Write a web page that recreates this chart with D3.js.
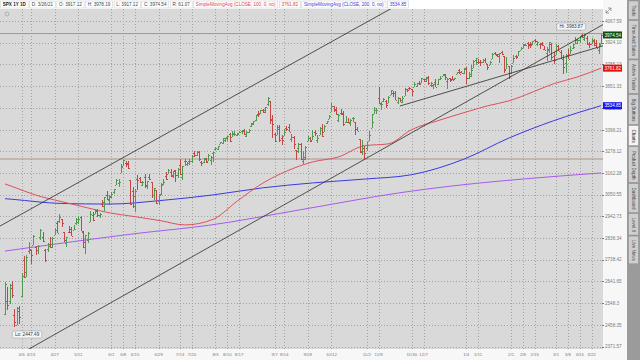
<!DOCTYPE html>
<html>
<head>
<meta charset="utf-8">
<script src="https://cdn.jsdelivr.net/npm/d3@7"></script>
<style>
body { margin: 0; background: #fff; }
svg { display: block; font-family: "Liberation Sans", Arial, sans-serif; }
</style>
</head>
<body>
<svg id="chart" width="640" height="360"></svg>
<script>
// SPX daily bars, 3/26/20 .. 3/26/21 (one entry per trading day)
const days = [
  '3/26','3/27','3/30','3/31',
  '4/1','4/2','4/3','4/6','4/7','4/8','4/9','4/13','4/14','4/15','4/16','4/17','4/20','4/21','4/22','4/23','4/24','4/27','4/28','4/29','4/30',
  '5/1','5/4','5/5','5/6','5/7','5/8','5/11','5/12','5/13','5/14','5/15','5/18','5/19','5/20','5/21','5/22','5/26','5/27','5/28','5/29',
  '6/1','6/2','6/3','6/4','6/5','6/8','6/9','6/10','6/11','6/12','6/15','6/16','6/17','6/18','6/19','6/22','6/23','6/24','6/25','6/26','6/29','6/30',
  '7/1','7/2','7/6','7/7','7/8','7/9','7/10','7/13','7/14','7/15','7/16','7/17','7/20','7/21','7/22','7/23','7/24','7/27','7/28','7/29','7/30','7/31',
  '8/3','8/4','8/5','8/6','8/7','8/10','8/11','8/12','8/13','8/14','8/17','8/18','8/19','8/20','8/21','8/24','8/25','8/26','8/27','8/28','8/31',
  '9/1','9/2','9/3','9/4','9/8','9/9','9/10','9/11','9/14','9/15','9/16','9/17','9/18','9/21','9/22','9/23','9/24','9/25','9/28','9/29','9/30',
  '10/1','10/2','10/5','10/6','10/7','10/8','10/9','10/12','10/13','10/14','10/15','10/16','10/19','10/20','10/21','10/22','10/23','10/26','10/27','10/28','10/29','10/30',
  '11/2','11/3','11/4','11/5','11/6','11/9','11/10','11/11','11/12','11/13','11/16','11/17','11/18','11/19','11/20','11/23','11/24','11/25','11/27','11/30',
  '12/1','12/2','12/3','12/4','12/7','12/8','12/9','12/10','12/11','12/14','12/15','12/16','12/17','12/18','12/21','12/22','12/23','12/24','12/28','12/29','12/30','12/31',
  '1/4','1/5','1/6','1/7','1/8','1/11','1/12','1/13','1/14','1/15','1/19','1/20','1/21','1/22','1/25','1/26','1/27','1/28','1/29',
  '2/1','2/2','2/3','2/4','2/5','2/8','2/9','2/10','2/11','2/12','2/16','2/17','2/18','2/19','2/22','2/23','2/24','2/25','2/26',
  '3/1','3/2','3/3','3/4','3/5','3/8','3/9','3/10','3/11','3/12','3/15','3/16','3/17','3/18','3/19','3/22','3/23','3/24','3/25','3/26b'
]

const opens = [
  2501.29,2555.87,2558.98,2614.69,
  2498.08,2458.54,2514.92,2578.28,2738.65,2685.00,2776.99,2782.46,2805.10,2795.64,2799.34,2842.43,2845.62,2784.81,2787.89,2810.42,2812.64,2854.65,2909.96,2918.46,2930.91,
  2869.09,2815.01,2868.88,2883.14,2878.26,2908.83,2915.46,2939.50,2865.86,2794.54,2829.95,2913.86,2948.59,2953.63,2969.95,2948.05,3004.08,3015.65,3046.61,3025.17,
  3038.78,3064.78,3098.90,3111.56,3163.84,3199.92,3213.32,3213.42,3123.53,3071.04,2993.76,3131.00,3136.13,3101.64,3140.29,3094.42,3138.70,3114.40,3046.60,3073.20,3018.59,3050.20,
  3105.92,3143.64,3155.29,3166.44,3153.07,3176.17,3152.47,3205.08,3141.11,3225.98,3208.36,3224.21,3224.29,3268.52,3254.86,3271.64,3218.58,3219.84,3234.27,3227.22,3231.76,3270.45,
  3288.26,3289.92,3317.37,3323.17,3340.05,3356.04,3370.34,3355.46,3372.95,3368.66,3380.86,3387.04,3392.51,3360.48,3386.01,3418.09,3435.95,3449.97,3485.14,3494.69,3509.73,
  3507.44,3543.76,3564.74,3453.60,3371.88,3369.82,3412.56,3352.70,3363.56,3407.73,3411.23,3346.86,3357.38,3285.57,3295.75,3320.11,3226.14,3236.66,3333.90,3350.92,3341.21,
  3385.87,3338.94,3367.27,3408.74,3384.56,3434.28,3459.67,3500.02,3534.01,3515.47,3453.72,3493.50,3493.66,3439.38,3439.91,3438.50,3464.90,3441.42,3403.15,3342.48,3277.17,3293.59,
  3296.20,3336.25,3406.46,3485.74,3508.34,3583.04,3543.26,3563.22,3562.67,3552.57,3600.16,3610.31,3612.09,3559.41,3579.31,3566.82,3594.52,3635.50,3638.55,3634.18,
  3645.87,3653.78,3668.28,3670.94,3694.73,3683.05,3705.98,3659.13,3656.08,3675.27,3666.41,3696.25,3713.65,3722.39,3684.28,3698.08,3693.42,3694.03,3723.03,3750.01,3736.19,3733.27,
  3764.61,3698.02,3712.20,3764.71,3815.05,3803.14,3801.62,3802.23,3814.98,3788.73,3781.88,3816.22,3857.46,3844.24,3851.68,3862.96,3836.83,3755.75,3778.05,
  3731.17,3791.84,3840.27,3836.66,3878.30,3892.59,3910.49,3920.78,3916.40,3911.65,3939.61,3918.50,3915.86,3921.16,3885.55,3857.07,3873.71,3915.80,3839.66,
  3842.51,3903.64,3863.99,3818.53,3793.58,3844.39,3851.93,3891.99,3915.54,3924.52,3942.96,3973.59,3949.57,3953.50,3913.15,3916.48,3937.60,3919.93,3879.34,3917.12
]

const highs = [
  2637.01,2615.91,2631.80,2641.39,
  2522.75,2533.22,2538.18,2676.85,2756.89,2760.75,2818.57,2782.46,2851.85,2801.88,2806.51,2879.22,2868.98,2785.54,2815.10,2844.90,2842.71,2887.72,2921.15,2954.86,2930.91,
  2869.09,2844.24,2898.23,2891.11,2901.92,2932.16,2944.25,2945.82,2874.14,2852.80,2865.01,2968.09,2964.21,2980.29,2978.50,2956.76,3021.72,3036.25,3068.67,3049.17,
  3062.18,3081.07,3130.94,3128.91,3211.72,3233.13,3222.71,3223.27,3123.53,3088.42,3079.76,3153.45,3141.16,3120.00,3155.53,3120.92,3154.90,3115.01,3086.25,3073.73,3053.89,3111.51,
  3128.44,3165.81,3182.59,3184.15,3171.80,3179.78,3186.82,3235.32,3200.95,3238.28,3220.39,3233.52,3258.61,3277.29,3279.32,3279.99,3227.26,3241.43,3243.72,3264.74,3250.92,3272.17,
  3302.73,3306.84,3330.77,3351.03,3352.54,3363.29,3381.01,3387.89,3387.24,3378.51,3387.59,3395.06,3399.54,3390.80,3399.96,3432.09,3444.21,3481.07,3501.38,3509.23,3514.77,
  3528.03,3588.11,3564.85,3479.15,3379.97,3424.77,3425.55,3368.95,3402.93,3419.48,3428.92,3375.17,3362.27,3285.57,3320.31,3323.35,3278.70,3306.88,3360.74,3357.92,3393.56,
  3397.18,3369.10,3409.57,3431.56,3426.26,3447.28,3482.34,3549.85,3534.01,3527.94,3489.08,3515.76,3502.42,3476.93,3464.86,3460.53,3466.46,3441.42,3409.51,3342.48,3341.05,3304.93,
  3330.14,3389.49,3486.25,3529.05,3521.58,3645.99,3557.22,3581.16,3569.02,3593.66,3628.51,3623.11,3619.09,3585.22,3581.23,3589.81,3642.31,3635.50,3644.31,3634.18,
  3678.45,3670.96,3682.73,3699.20,3697.41,3708.45,3712.39,3678.49,3665.91,3697.61,3695.29,3711.27,3725.12,3726.70,3702.90,3698.26,3711.24,3703.82,3740.51,3756.12,3744.63,3760.20,
  3769.99,3737.83,3783.04,3811.55,3826.69,3817.86,3810.78,3820.96,3823.60,3788.73,3804.53,3859.75,3861.45,3852.31,3859.23,3870.90,3836.83,3830.50,3778.05,
  3784.32,3843.09,3847.51,3872.42,3894.56,3915.77,3918.35,3931.50,3925.99,3937.23,3950.43,3933.61,3921.98,3930.41,3902.92,3895.98,3928.65,3925.02,3861.08,
  3914.50,3906.41,3874.47,3843.67,3851.69,3881.06,3903.76,3917.35,3960.27,3944.99,3970.08,3981.04,3983.87,3969.62,3930.12,3955.31,3949.13,3942.08,3919.54,3978.19
]

const lows = [
  2500.72,2520.02,2545.28,2571.15,
  2447.49,2455.79,2459.96,2574.57,2657.67,2663.30,2762.36,2721.17,2805.10,2761.54,2764.32,2830.88,2820.43,2727.10,2775.95,2794.26,2791.76,2852.89,2860.71,2912.16,2892.47,
  2821.61,2797.85,2863.55,2847.65,2876.48,2902.88,2903.44,2869.59,2793.15,2766.64,2816.78,2913.86,2922.35,2953.63,2938.57,2933.59,2988.17,2969.75,3023.40,2998.61,
  3031.54,3051.64,3098.90,3090.41,3163.84,3196.00,3193.11,3181.49,2999.49,2984.47,2965.66,3076.06,3108.03,3093.51,3083.11,3079.39,3127.12,3032.13,3024.01,3004.63,2999.74,3047.83,
  3101.17,3124.52,3155.29,3142.93,3136.53,3115.70,3136.22,3149.43,3127.66,3200.76,3198.59,3205.65,3215.16,3247.77,3253.10,3222.66,3200.05,3214.25,3216.17,3227.22,3204.13,3220.26,
  3284.53,3286.37,3317.37,3318.14,3328.72,3335.44,3326.44,3355.46,3363.35,3361.64,3379.22,3370.15,3369.66,3354.69,3379.31,3413.13,3421.22,3444.15,3468.35,3484.32,3493.25,
  3494.60,3535.23,3427.41,3349.63,3329.27,3366.84,3329.25,3310.47,3363.56,3389.25,3384.45,3328.82,3292.40,3229.10,3270.95,3232.57,3209.45,3228.44,3332.91,3327.54,3340.47,
  3361.39,3323.69,3367.27,3354.54,3384.56,3428.15,3458.07,3499.61,3500.86,3480.55,3440.89,3480.45,3419.93,3435.65,3433.06,3415.34,3440.45,3364.86,3388.71,3268.89,3259.82,3233.94,
  3279.74,3336.25,3405.17,3485.74,3484.34,3547.48,3511.91,3557.00,3518.58,3552.57,3600.16,3588.68,3567.33,3543.84,3556.85,3552.77,3594.52,3617.76,3629.33,3594.39,
  3645.87,3644.84,3657.17,3670.94,3678.88,3678.83,3660.54,3645.18,3633.40,3645.84,3659.62,3688.57,3710.87,3685.84,3636.48,3676.16,3689.28,3689.32,3723.03,3723.31,3730.21,3726.88,
  3662.71,3695.07,3705.34,3764.71,3783.60,3789.02,3776.51,3791.50,3792.86,3749.62,3780.37,3816.22,3845.05,3830.41,3797.16,3847.78,3732.48,3755.75,3694.12,
  3725.62,3791.84,3816.68,3836.66,3874.93,3892.59,3902.64,3884.94,3890.39,3905.78,3923.85,3900.43,3885.03,3903.07,3874.71,3805.59,3859.60,3814.04,3789.54,
  3842.51,3868.57,3818.86,3723.34,3730.19,3819.25,3851.93,3885.73,3915.54,3915.21,3923.54,3953.44,3935.74,3910.86,3886.75,3914.16,3901.78,3888.64,3853.50,3917.12
]

const closes = [
  2630.07,2541.47,2626.65,2584.59,
  2470.50,2526.90,2488.65,2663.68,2659.41,2749.98,2789.82,2761.63,2846.06,2783.36,2799.55,2874.56,2823.16,2736.56,2799.31,2797.80,2836.74,2878.48,2863.39,2939.51,2912.43,
  2830.71,2842.74,2868.44,2848.42,2881.19,2929.80,2930.32,2870.12,2820.00,2852.50,2863.70,2953.91,2922.94,2971.61,2948.51,2955.45,2991.77,3036.13,3029.73,3044.31,
  3055.73,3080.82,3122.87,3112.35,3193.93,3232.39,3207.18,3190.14,3002.10,3041.31,3066.59,3124.74,3113.49,3115.34,3097.74,3117.86,3131.29,3050.33,3083.76,3009.05,3053.24,3100.29,
  3115.86,3130.01,3179.72,3145.32,3169.94,3152.05,3185.04,3155.22,3197.52,3226.56,3215.57,3224.73,3251.84,3257.30,3276.02,3235.66,3215.63,3239.41,3218.44,3258.44,3246.22,3271.12,
  3294.61,3306.51,3327.77,3349.16,3351.28,3360.47,3333.69,3380.35,3373.43,3372.85,3381.99,3389.78,3374.85,3385.51,3397.16,3431.28,3443.62,3478.73,3484.55,3508.01,3500.31,
  3526.65,3580.84,3455.06,3426.96,3331.84,3398.96,3339.19,3340.97,3383.54,3401.20,3385.49,3357.01,3319.47,3281.06,3315.57,3236.92,3246.59,3298.46,3351.60,3335.47,3363.00,
  3380.80,3348.42,3408.60,3360.97,3419.44,3446.83,3477.14,3534.22,3511.93,3488.67,3483.34,3483.81,3426.92,3443.12,3435.56,3453.49,3465.39,3400.97,3390.68,3271.03,3310.11,3269.96,
  3310.24,3369.16,3443.44,3510.45,3509.44,3550.50,3545.53,3572.66,3537.01,3585.15,3626.91,3609.53,3567.79,3581.87,3557.54,3577.59,3635.41,3629.65,3638.35,3621.63,
  3662.45,3669.01,3666.72,3699.12,3691.96,3702.25,3672.82,3668.10,3663.46,3647.49,3694.62,3701.17,3722.48,3709.41,3694.92,3687.26,3690.01,3703.06,3735.36,3727.04,3732.04,3756.07,
  3700.65,3726.86,3748.14,3803.79,3824.68,3799.61,3801.19,3809.84,3795.54,3768.25,3798.91,3851.85,3853.07,3841.47,3855.36,3849.62,3750.77,3787.38,3714.24,
  3773.86,3826.31,3830.17,3871.74,3886.83,3915.59,3911.23,3909.88,3916.38,3934.83,3932.59,3931.33,3913.97,3906.71,3876.50,3881.37,3925.43,3829.34,3811.15,
  3901.82,3870.29,3819.72,3768.47,3841.94,3821.35,3875.44,3898.81,3939.34,3943.34,3968.94,3962.71,3974.12,3915.46,3913.10,3940.59,3910.52,3889.14,3909.52,3974.54
]

// studies, sampled at these days
const sma100Days = ['3/26','3/31','4/15','4/30','5/15','5/29','6/15','6/30','7/15','7/31','8/14','8/31','9/15','9/30','10/15','10/30','11/13','11/30','12/15','12/31','1/15','1/29','2/12','2/26','3/12','3/26b']
const sma100 = [3105,3092,3048,3015,2984,2960,2941,2921,2901,2928,3016,3109,3171,3220,3247,3308,3318,3398,3448,3494,3534,3563,3615,3666,3707,3761.82]
const sma200Days = ['3/26','3/31','4/30','5/29','6/30','7/31','8/31','9/30','10/30','11/30','12/31','1/29','2/26','3/26b']
const sma200 = [3030,3027,3006,3003,3021,3049,3085,3110,3130,3153,3235,3350,3448,3534.85]
const purpleDays = ['3/26','6/17','7/29','9/23','11/20','3/26b']
const purple = [2778,2862,2899,2975,3060,3162]

// drawn lines: [day, price] anchors and how far they run
const trendLines = [
  [['4/9', 2973], ['10/28', 4034], 'both'],
  [['4/24', 2414], ['10/30', 3233.94], 'both'],
  [['11/20', 3533], ['3/26b', 3900], 'right']
]
const levels = [3983.87, 3236]

const yTicks = ['4067.59','3924.10','3785.13','3651.33','3522.35','3396.21','3278.12','3162.28','3050.55','2942.73','2838.34','2738.42','2641.65','2548.3','2458.35','2371.57']
const xTickLabels = ['4/6','4/13','4/27','5/11','6/1','6/8','6/15','6/29','7/13','7/20','8/3','8/10','8/17','9/7','9/14','9/28','10/12','11/2','11/9','11/30','12/7','1/4','1/11','2/1','2/8','2/15','3/1','3/8','3/15','3/22']
const xTickDays = ['4/6','4/13','4/27','5/11','6/1','6/8','6/15','6/29','7/13','7/20','8/3','8/10','8/17','9/8','9/14','9/28','10/12','11/2','11/9','11/30','12/7','1/4','1/11','2/1','2/8','2/16','3/1','3/8','3/15','3/22']

const header = [
  ['SPX 1Y 1D', '#222'], ['D: 3/26/21', '#444'], ['O: 3917.12', '#444'], ['H: 3978.19', '#444'],
  ['L: 3917.12', '#444'], ['C: 3974.54', '#444'], ['R: 61.07', '#444'],
  ['SimpleMovingAvg (CLOSE, 100, 0, no)', '#e0404a'], ['3761.82', '#e0404a'],
  ['SimpleMovingAvg (CLOSE, 200, 0, no)', '#3b3bd6'], ['3534.85', '#3b3bd6']
]
const tabs = ['Trade', 'Time And Sales', 'Active Trader', 'Big Buttons', 'Charts', 'Product Depth', 'Dashboard', 'Level II', 'Live News']

const svg = d3.select('#chart')
const idx = d => days.indexOf(d)

const plotL = 0, plotR = 603, plotT = 9, plotB = 349
const x = d3.scaleLinear().domain([0, days.length - 1]).range([5, 601])
const y = d3.scaleLog().domain([2371.57, 4067.59]).range([346.5, 21])

svg.append('rect').attr('width', 640).attr('height', 360).attr('fill', '#f7f7f7')
svg.append('rect').attr('x', plotL).attr('y', plotT).attr('width', plotR - plotL).attr('height', plotB - plotT).attr('fill', '#d9d9d9')

svg.append('clipPath').attr('id', 'clip').append('rect')
  .attr('x', plotL).attr('y', plotT).attr('width', plotR - plotL).attr('height', plotB - plotT)
const g = svg.append('g').attr('clip-path', 'url(#clip)')

// grid
g.selectAll('.hg').data(yTicks).enter().append('line')
  .attr('x1', plotL).attr('x2', plotR)
  .attr('y1', d => Math.round(y(+d)) + 0.5).attr('y2', d => Math.round(y(+d)) + 0.5)
  .attr('stroke', '#a3a3a3').attr('stroke-dasharray', '1,2')
g.selectAll('.vg').data(xTickDays).enter().append('line')
  .attr('x1', d => Math.round(x(idx(d))) + 0.5).attr('x2', d => Math.round(x(idx(d))) + 0.5)
  .attr('y1', plotT).attr('y2', plotB)
  .attr('stroke', '#a3a3a3').attr('stroke-dasharray', '1,2')

// horizontal levels
g.selectAll('.lvl').data(levels).enter().append('line')
  .attr('x1', plotL).attr('x2', plotR)
  .attr('y1', d => y(d)).attr('y2', d => y(d))
  .attr('stroke', '#a89888').attr('stroke-width', 1)

// moving averages
function drawStudy(dd, vals, color) {
  const line = d3.line().x(d => x(idx(d[0]))).y(d => y(d[1])).curve(d3.curveMonotoneX)
  g.append('path').datum(dd.map((d, i) => [d, vals[i]]))
    .attr('d', line).attr('fill', 'none').attr('stroke', color).attr('stroke-width', 1)
}
drawStudy(purpleDays, purple, '#a65bf0')
drawStudy(sma200Days, sma200, '#3a3ae0')
drawStudy(sma100Days, sma100, '#e0505a')

// bars
const bars = g.selectAll('.bar').data(days).enter().append('g')
  .attr('stroke', (d, i) => closes[i] >= opens[i] ? '#4f9a4f' : '#c44545')
  .attr('shape-rendering', 'crispEdges')
bars.append('line')
  .attr('x1', (d, i) => Math.round(x(i)) + 0.5).attr('x2', (d, i) => Math.round(x(i)) + 0.5)
  .attr('y1', (d, i) => y(highs[i])).attr('y2', (d, i) => y(lows[i]))
bars.append('line')
  .attr('x1', (d, i) => Math.round(x(i)) - 1).attr('x2', (d, i) => Math.round(x(i)))
  .attr('y1', (d, i) => Math.round(y(opens[i])) + 0.5).attr('y2', (d, i) => Math.round(y(opens[i])) + 0.5)
bars.append('line')
  .attr('x1', (d, i) => Math.round(x(i)) + 1).attr('x2', (d, i) => Math.round(x(i)) + 2)
  .attr('y1', (d, i) => Math.round(y(closes[i])) + 0.5).attr('y2', (d, i) => Math.round(y(closes[i])) + 0.5)

// trend lines
trendLines.forEach(t => {
  const x1 = x(idx(t[0][0])), y1 = y(t[0][1]), x2 = x(idx(t[1][0])), y2 = y(t[1][1])
  const k = (y2 - y1) / (x2 - x1)
  const xa = t[2] === 'both' ? -100 : x1, xb = 700
  g.append('line')
    .attr('x1', xa).attr('y1', y1 + k * (xa - x1))
    .attr('x2', xb).attr('y2', y1 + k * (xb - x1))
    .attr('stroke', '#2b2b2b').attr('stroke-width', 0.8)
})

// hi / lo bubbles
const hiI = highs.indexOf(d3.max(highs)), loI = lows.indexOf(d3.min(lows))
function bubble(text, px, py, anchor) {
  const t = svg.append('text').attr('font-size', 4.6).attr('fill', '#333').text(text)
  const w = t.node().getComputedTextLength() + 5
  const bx = anchor === 'end' ? px - w : px
  svg.append('rect').attr('x', bx).attr('y', py - 3.5).attr('width', w).attr('height', 7)
    .attr('rx', 1.5).attr('fill', '#f6f6f6').attr('stroke', '#999').attr('stroke-width', 0.5)
  t.raise().attr('x', bx + 2.5).attr('y', py + 1.6)
}
bubble('Hi: ' + d3.max(highs).toFixed(2), x(hiI) + 1, y(d3.max(highs)) - 7, 'end')
bubble('Lo: ' + d3.min(lows).toFixed(2), x(loI) - 2, y(d3.min(lows)) + 7, 'start')

// right axis
svg.selectAll('.yl').data(yTicks).enter().append('text')
  .attr('x', 605).attr('y', d => y(+d) + 1.7)
  .attr('font-size', 4.6).attr('fill', '#7a7a7a').text(d => d)
svg.selectAll('.yt').data(yTicks).enter().append('line')
  .attr('x1', 602).attr('x2', 604).attr('y1', d => Math.round(y(+d)) + 0.5).attr('y2', d => Math.round(y(+d)) + 0.5)
  .attr('stroke', '#777')

const markers = [[closes[closes.length - 1], '#0f4f0f'], [sma100[sma100.length - 1], '#e01010'], [sma200[sma200.length - 1], '#1414f0']]
markers.forEach(m => {
  svg.append('rect').attr('x', 603).attr('y', y(m[0]) - 3.5).attr('width', 19).attr('height', 7).attr('fill', m[1])
  svg.append('text').attr('x', 604.5).attr('y', y(m[0]) + 1.7).attr('font-size', 4.6).attr('fill', '#fff').text(m[0].toFixed(2))
})

// bottom axis
svg.selectAll('.xl').data(xTickLabels).enter().append('text')
  .attr('x', (d, i) => x(idx(xTickDays[i]))).attr('y', 356)
  .attr('text-anchor', 'middle').attr('font-size', 4.4).attr('fill', '#7a7a7a').text(d => d)

// header strip
svg.append('rect').attr('width', 603).attr('height', plotT).attr('fill', '#fff')
let hx = 0.5
header.forEach((h, i) => {
  const t = svg.append('text').attr('y', 6).attr('font-size', 4.6).attr('fill', h[1])
    .attr('font-weight', i === 0 ? 'bold' : 'normal').text(h[0])
  const w = t.node().getComputedTextLength() + 4.5
  svg.insert('rect', 'text:last-of-type').attr('x', hx).attr('y', 1).attr('width', w).attr('height', 7)
    .attr('fill', '#fff').attr('stroke', '#c8c8c8').attr('stroke-width', 0.5)
  t.raise().attr('x', hx + 2.2)
  hx += w + 1.5
})
svg.append('circle').attr('cx', 7).attr('cy', 14).attr('r', 2).attr('fill', 'none').attr('stroke', '#888').attr('stroke-width', 0.5)
svg.append('path').attr('d', 'M606,13 L611,8 M608,8 L611,8 L611,11 M606,10 L606,13 L609,13')
  .attr('fill', 'none').attr('stroke', '#666').attr('stroke-width', 0.6)

// side tabs
svg.append('rect').attr('x', 627).attr('y', 0).attr('width', 13).attr('height', 360).attr('fill', '#9b9b9b')
let ty = 1
tabs.forEach(name => {
  const t = svg.append('text').attr('font-size', 4.5).attr('fill', name === 'Charts' ? '#222' : '#444').text(name)
  const len = t.node().getComputedTextLength() + 8
  svg.append('rect').attr('x', 628.5).attr('y', ty).attr('width', 10).attr('height', len - 1)
    .attr('fill', name === 'Charts' ? '#f4f4f4' : '#cfcfcf').attr('stroke', '#8a8a8a').attr('stroke-width', 0.5)
  t.raise().attr('transform', `translate(632,${ty + 4}) rotate(90)`)
  ty += len
})
</script>
</body>
</html>
